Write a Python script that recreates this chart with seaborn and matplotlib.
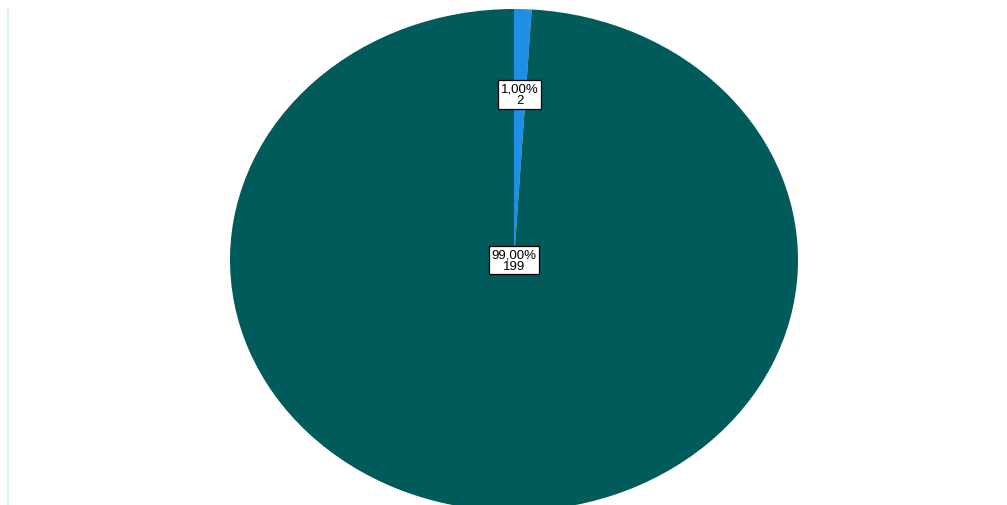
import numpy as np
import matplotlib
matplotlib.use("Agg")
import matplotlib.pyplot as plt
import seaborn as sns
from matplotlib.lines import Line2D

categories = ["A", "B"]
counts = [2, 199]
percents = [1.00, 99.00]
colors = ["#1f8fe6", "#015b5b"]

sns.set_theme(style="white")
plt.rcParams['font.family'] = ['Liberation Sans', 'DejaVu Sans']

fig = plt.figure(figsize=(10.07, 5.06), dpi=100)
ax = fig.add_axes([230/1007, 1 - 512/506, 568/1007, 502/506])
wedges, _ = ax.pie(counts, colors=colors, startangle=90, counterclock=False,
                   wedgeprops=dict(linewidth=0))
ax.set_aspect('auto')
ax.set_xlim(-1, 1)
ax.set_ylim(-1, 1)
ax.axis('off')

dists = [0.66, 0.0]
for w, c, p, d in zip(wedges, counts, percents, dists):
    ang = np.deg2rad((w.theta1 + w.theta2) / 2)
    x, y = d * np.cos(ang), d * np.sin(ang)
    label = f"{p:.2f}".replace(".", ",") + f"%\n{c}"
    ax.text(x, y, label, ha='center', va='center', fontsize=9.5, linespacing=0.9,
            color='black',
            bbox=dict(boxstyle='square,pad=0.2', fc='white', ec='black', lw=0.9))

fig.add_artist(Line2D([8/1007, 8/1007], [0, 1 - 10/506], color='#c8f4f8', lw=1.2,
                      transform=fig.transFigure))

fig.savefig("out.png", dpi=100)
